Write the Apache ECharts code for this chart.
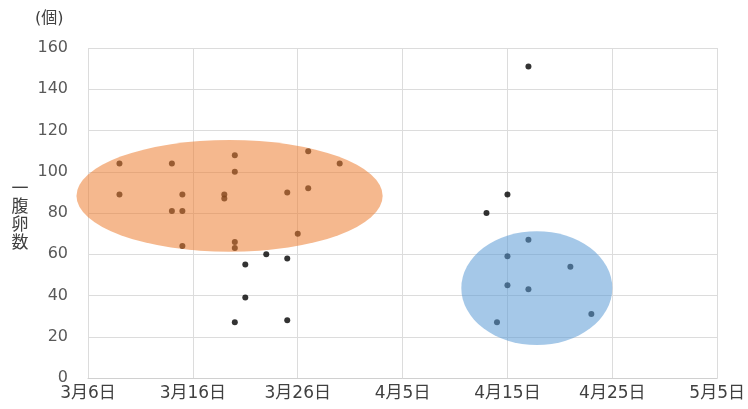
<!DOCTYPE html>
<html>
<head>
<meta charset="utf-8">
<script src="https://cdn.jsdelivr.net/npm/echarts@6/dist/echarts.min.js"></script>
<style>
  html, body { margin: 0; padding: 0; background: #ffffff; }
  #chart { width: 748px; height: 409px; }
</style>
</head>
<body>
<div id="chart"></div>
<script>
// Sampling dates (month/day) and eggs per clutch for each sample
const sampleDates = [
  '3/9', '3/9',
  '3/14', '3/14',
  '3/15', '3/15', '3/15',
  '3/19', '3/19',
  '3/20', '3/20', '3/20', '3/20', '3/20',
  '3/21', '3/21',
  '3/23',
  '3/25', '3/25', '3/25',
  '3/26',
  '3/27', '3/27',
  '3/30',
  '4/13',
  '4/14',
  '4/15', '4/15', '4/15',
  '4/17', '4/17', '4/17',
  '4/21',
  '4/23'
];
const eggCounts = [
  104, 89,
  104, 81,
  89, 81, 64,
  89, 87,
  108, 100, 66, 63, 27,
  55, 39,
  60,
  90, 58, 28,
  70,
  110, 92,
  104,
  80,
  27,
  89, 59, 45,
  151, 67, 43,
  54,
  31
];

// Highlighted groups: centre (days after 3/6, eggs) and half extents
const groupCenterDays = [13.5, 42.8];
const groupCenterEggs = [88.3, 43.6];
const groupHalfDays = [14.6, 7.2];
const groupHalfEggs = [27.1, 27.6];
const groupColors = ['#ED7D31', '#5B9BD5'];

// Axis ticks
const xTickDays = [0, 10, 20, 30, 40, 50, 60];
const yTicks = [0, 20, 40, 60, 80, 100, 120, 140, 160];

const START = Date.UTC(2020, 2, 6);
const DAY_MS = 86400000;

function dayOffset(md) {
  const [m, d] = md.split('/').map(Number);
  return Math.round((Date.UTC(2020, m - 1, d) - START) / DAY_MS);
}
function dayLabel(v) {
  const dt = new Date(START + v * DAY_MS);
  return (dt.getUTCMonth() + 1) + '月' + dt.getUTCDate() + '日';
}

const points = sampleDates.map((d, i) => [dayOffset(d), eggCounts[i]]);
const groups = groupCenterDays.map((c, i) => [c, groupCenterEggs[i], groupHalfDays[i], groupHalfEggs[i], i]);

const chart = echarts.init(document.getElementById('chart'), null, { renderer: 'canvas' });

chart.setOption({
  animation: false,
  backgroundColor: '#ffffff',
  grid: { left: 88, right: 30, top: 48, bottom: 31, containLabel: false },
  xAxis: {
    type: 'value',
    min: xTickDays[0],
    max: xTickDays[xTickDays.length - 1],
    interval: 10,
    axisLine: { show: true, lineStyle: { color: '#d0d0d0', width: 1 } },
    axisTick: { show: false },
    splitLine: { show: true, lineStyle: { color: '#dcdcdc', width: 1 } },
    axisLabel: {
      formatter: dayLabel,
      fontFamily: 'DejaVu Sans, Noto Sans CJK JP',
      fontSize: 17,
      color: '#404040',
      margin: 7,
      showMinLabel: true,
      showMaxLabel: true,
      hideOverlap: false
    }
  },
  yAxis: {
    type: 'value',
    min: yTicks[0],
    max: yTicks[yTicks.length - 1],
    interval: 20,
    axisLine: { show: false },
    axisTick: { show: false },
    splitLine: { show: true, lineStyle: { color: '#dcdcdc', width: 1 } },
    axisLabel: {
      fontFamily: 'DejaVu Sans',
      fontSize: 16,
      color: '#595959',
      margin: 20
    }
  },
  graphic: [
    {
      type: 'text', left: 35, top: 11,
      style: { text: '(個)', fontFamily: 'DejaVu Sans, Noto Sans CJK JP', fontSize: 16, fill: '#404040' }
    },
    {
      type: 'text', x: 20, y: 179,
      style: {
        text: '一\n腹\n卵\n数', fontFamily: 'Noto Sans CJK JP', fontSize: 17, lineHeight: 18,
        fill: '#404040', align: 'center'
      }
    }
  ],
  series: [
    {
      type: 'scatter',
      data: points,
      symbol: 'circle',
      symbolSize: 6,
      itemStyle: { color: '#000000' },
      z: 2
    },
    {
      type: 'custom',
      data: groups,
      z: 3,
      silent: true,
      renderItem: function (params, api) {
        const c = api.coord([api.value(0), api.value(1)]);
        const s = api.size([api.value(2), api.value(3)]);
        const idx = api.value(4);
        return {
          type: 'circle',
          x: c[0], y: c[1],
          scaleX: s[0], scaleY: s[1],
          shape: { cx: 0, cy: 0, r: 1 },
          style: { fill: groupColors[idx], opacity: 0.55 }
        };
      }
    }
  ]
});
</script>
</body>
</html>
